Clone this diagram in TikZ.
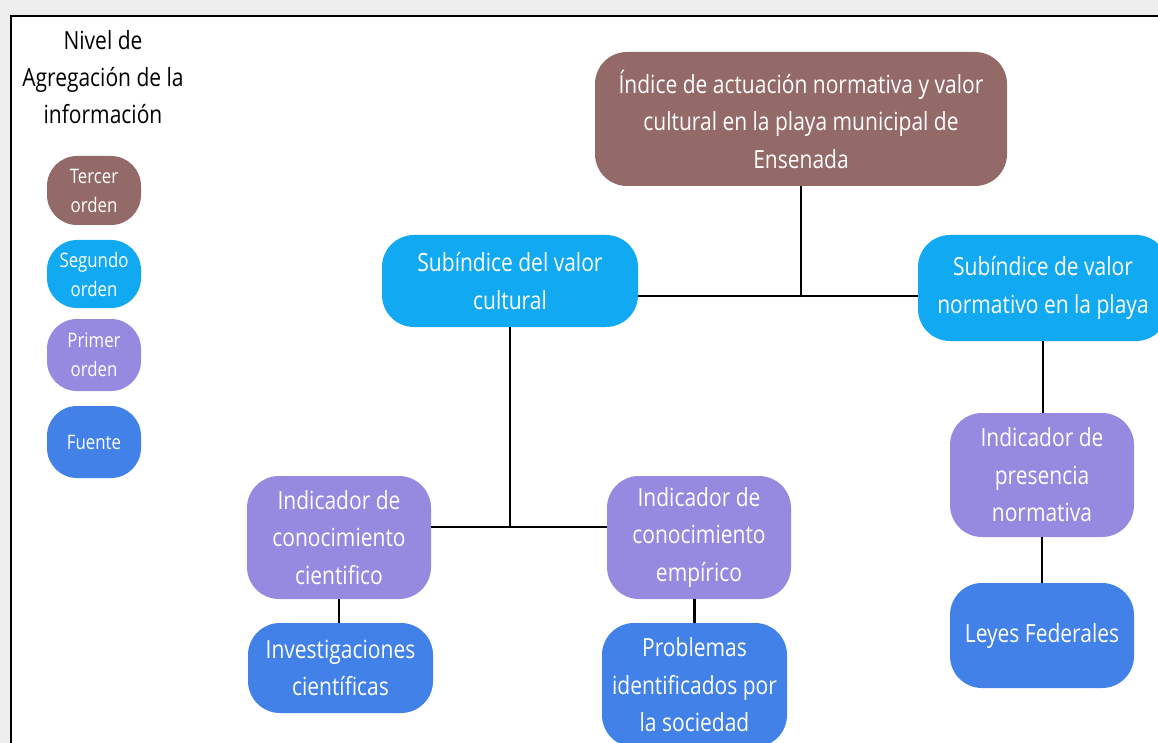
\documentclass[tikz,border=0pt]{standalone}
\usepackage{fontspec}
\setmainfont{Open Sans}[FakeStretch=0.84]
\definecolor{cbrown}{RGB}{148,106,105}
\definecolor{ccyan}{RGB}{17,169,241}
\definecolor{cpurple}{RGB}{150,137,224}
\definecolor{cblue}{RGB}{66,129,232}
\definecolor{cbg}{RGB}{238,238,238}
\tikzset{
  box/.style={rectangle, rounded corners=32pt, text=white, align=center, inner sep=0pt,
    font=\fontsize{25}{37.5}\selectfont},
  legbox/.style={rectangle, rounded corners=30pt, text=white, align=center, inner sep=0pt,
    minimum width=94pt, font=\fontsize{20}{29}\selectfont},
  link/.style={line width=2.5pt, black}
}
\begin{document}
\begin{tikzpicture}[x=1pt,y=-1pt]
\useasboundingbox (0,0) rectangle (1158,743);
\fill[cbg] (0,0) rectangle (1158,743);
\fill[white] (11,16) rectangle (1158,743);
\draw[line width=2.5pt] (11,743) -- (11,16) -- (1158,16);

% legend
\node[align=center, font=\fontsize{25}{37}\selectfont] (title) at (103,77) {Nivel de\\Agregación de la\\información};
\node[legbox, fill=cbrown, minimum height=69pt] (lg1) at (94,190.5) {Tercer\\orden};
\node[legbox, fill=ccyan, minimum height=68pt] (lg2) at (94,274) {Segundo\\orden};
\node[legbox, fill=cpurple, minimum height=72pt] (lg3) at (94,355) {Primer\\orden};
\node[legbox, fill=cblue, minimum height=72pt] (lg4) at (94,442) {Fuente};

% main nodes
\node[box, fill=cbrown, minimum width=412pt, minimum height=134pt] (top) at (801,119)
  {Índice de actuación normativa y valor\\cultural en la playa municipal de\\Ensenada};
\node[box, fill=ccyan, minimum width=256pt, minimum height=92pt] (cult) at (510,281)
  {Subíndice del valor\\cultural};
\node[box, fill=ccyan, minimum width=250pt, minimum height=106pt] (norm) at (1043,288)
  {Subíndice de valor\\normativo en la playa};
\node[box, fill=cpurple, minimum width=184pt, minimum height=123pt] (cient) at (339,537.5)
  {Indicador de\\conocimiento\\cientifico};
\node[box, fill=cpurple, minimum width=184pt, minimum height=123pt] (emp) at (699,537.5)
  {Indicador de\\conocimiento\\empírico};
\node[box, fill=cpurple, minimum width=184pt, minimum height=124pt] (pres) at (1042,475)
  {Indicador de\\presencia\\normativa};
\node[box, fill=cblue, minimum width=185pt, minimum height=90pt] (inv) at (340.5,668)
  {Investigaciones\\científicas};
\node[box, fill=cblue, minimum width=185pt, minimum height=124pt] (prob) at (694.5,685)
  {Problemas\\identificados por\\la sociedad};
\node[box, fill=cblue, minimum width=184pt, minimum height=105pt] (leyes) at (1042,635.5)
  {Leyes Federales};

% connectors
\coordinate (j1) at (801,296);
\coordinate (j2) at (510,527);
\draw[link] (top.south) -- (j1);
\draw[link] (cult.east |- j1) -- (norm.west |- j1);
\draw[link] (cult.south) -- (j2);
\draw[link] (cient.east |- j2) -- (emp.west |- j2);
\draw[link] (cient.south) -- (cient.south |- inv.north);
\draw[link] (prob.north |- emp.south) -- (prob.north);
\draw[link] (norm.south) -- (norm.south |- pres.north);
\draw[link] (pres.south) -- (pres.south |- leyes.north);
\end{tikzpicture}
\end{document}
